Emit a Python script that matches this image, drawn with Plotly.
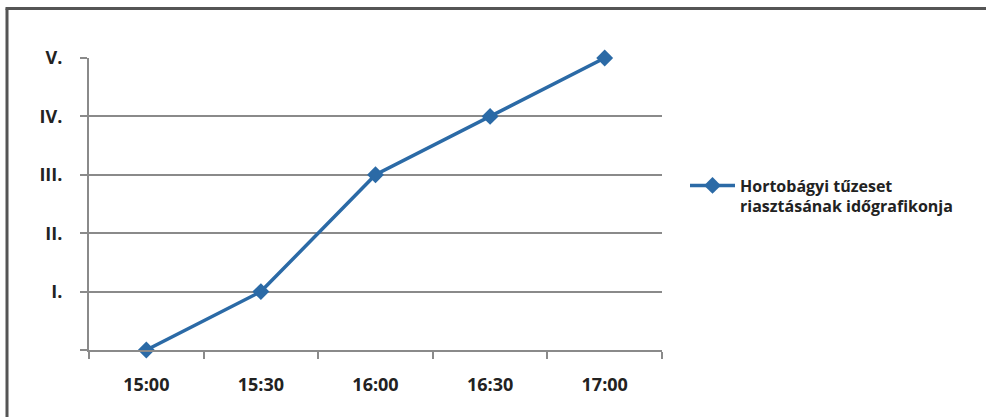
import plotly.graph_objects as go

times = ["15:00", "15:30", "16:00", "16:30", "17:00"]
levels = [0, 1, 3, 4, 5]
level_ticks = [0, 1, 2, 3, 4, 5]
level_labels = ["", "I.", "II.", "III.", "IV.", "V."]
series_name = "Hortobágyi tűzeset<br>riasztásának időgrafikonja"

L, R, T, B = 89, 324, 58, 67
W, H = 986, 417
pw, ph = W - L - R, H - T - B

def px(x):
    return (x - L) / pw

def py(y):
    return (H - B - y) / ph

fig = go.Figure()
fig.add_trace(go.Scatter(
    x=times, y=levels, mode="lines+markers", name=series_name,
    line=dict(color="#2b6aa6", width=3.5),
    marker=dict(symbol="diamond", size=13, color="#2b6aa6"),
    cliponaxis=False,
))

font_family = "Open Sans"
fig.update_layout(
    width=W, height=H,
    margin=dict(l=L, r=R, t=T, b=B),
    paper_bgcolor="white", plot_bgcolor="white",
    showlegend=True,
    legend=dict(x=px(685), y=py(196), xanchor="left", yanchor="middle",
                valign="top",
                font=dict(family=font_family, size=16, color="#222222", weight="bold"),
                itemwidth=45, bgcolor="rgba(0,0,0,0)", tracegroupgap=0),
    xaxis=dict(type="category", range=[-0.5, 4.5], showgrid=False,
               showline=True, linecolor="#8a8a8a", linewidth=2,
               ticks="outside", tickson="boundaries", ticklen=7, tickwidth=2,
               tickcolor="#8a8a8a", ticklabelstandoff=17,
               tickfont=dict(family=font_family, size=18, color="#222222", weight="bold")),
    yaxis=dict(range=[0, 5], tickvals=level_ticks, ticktext=level_labels,
               showgrid=True, gridcolor="#8a8a8a", gridwidth=2, zeroline=False,
               showline=True, linecolor="#8a8a8a", linewidth=2,
               ticks="outside", ticklen=7, tickwidth=2, tickcolor="#8a8a8a",
               ticklabelstandoff=14,
               tickfont=dict(family=font_family, size=18, color="#222222", weight="bold")),
    shapes=[
        dict(type="line", xref="paper", yref="paper",
             x0=px(7), x1=px(7), y0=py(H + 5), y1=py(8.5),
             line=dict(color="#555555", width=3)),
        dict(type="line", xref="paper", yref="paper",
             x0=px(5.5), x1=px(W + 5), y0=py(8.5), y1=py(8.5),
             line=dict(color="#555555", width=3)),
    ],
)

fig.write_html("out.html", config={"displayModeBar": False},
               post_script="document.body.style.margin='0';document.body.style.overflow='hidden';")
